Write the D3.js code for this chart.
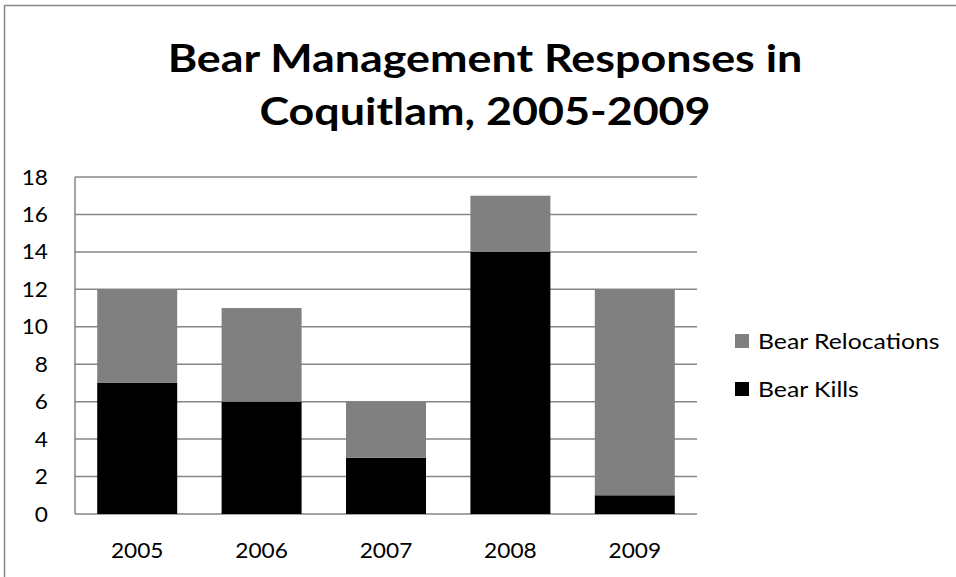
<!DOCTYPE html>
<html><head><meta charset="utf-8">
<script src="https://cdn.jsdelivr.net/npm/d3@7"></script>
<style>body{margin:0;background:#fff}svg{display:block}</style>
</head><body>
<script>
const years = ["2005","2006","2007","2008","2009"];
const bearKills = [7,6,3,14,1];
const bearRelocations = [5,5,3,3,11];
const yTicks = [0,2,4,6,8,10,12,14,16,18];
const titleLines = ["Bear Management Responses in","Coquitlam, 2005-2009"];
const seriesNames = ["Bear Relocations","Bear Kills"];
const seriesColors = {"Bear Kills":"#000000","Bear Relocations":"#808080"};

const W=956,H=577;
const svg=d3.select("body").append("svg").attr("width",W).attr("height",H);
const font="Lato, 'Open Sans', sans-serif";
const SX_TICK=1.08, SX_TEXT=1.18;

svg.append("rect").attr("x",4.5).attr("y",5.5).attr("width",W).attr("height",H)
  .attr("fill","#fff").attr("stroke","#868686").attr("stroke-width",1.5);

const L=75,R=697,T=177,B=514;
const x=d3.scaleBand().domain(years).range([L,R]).paddingInner(0.357).paddingOuter(0.1785);
const y=d3.scaleLinear().domain([0,18]).range([B,T]);

svg.append("g").selectAll("line").data(yTicks).join("line")
  .attr("x1",L).attr("x2",R).attr("y1",d=>y(d)).attr("y2",d=>y(d))
  .attr("stroke","#868686").attr("stroke-width",1.5);
svg.append("line").attr("x1",L).attr("x2",L).attr("y1",T).attr("y2",B)
  .attr("stroke","#868686").attr("stroke-width",1.5);

const rows=years.map((yr,i)=>({year:yr,"Bear Kills":bearKills[i],"Bear Relocations":bearRelocations[i]}));
const stack=d3.stack().keys(["Bear Kills","Bear Relocations"])(rows);
svg.append("g").selectAll("g").data(stack).join("g").attr("fill",d=>seriesColors[d.key])
  .selectAll("rect").data(d=>d).join("rect")
  .attr("x",d=>x(d.data.year)).attr("width",x.bandwidth())
  .attr("y",d=>y(d[1])).attr("height",d=>y(d[0])-y(d[1]));

svg.append("g").selectAll("text").data(yTicks).join("text")
  .attr("transform",d=>`translate(48,${y(d)}) scale(${SX_TICK},1)`).attr("dy","0.36em").attr("text-anchor","end")
  .attr("font-family",font).attr("font-size",21).text(d=>d);
svg.append("g").selectAll("text").data(years).join("text")
  .attr("transform",d=>`translate(${x(d)+x.bandwidth()/2},558) scale(${SX_TICK},1)`).attr("text-anchor","middle")
  .attr("font-family",font).attr("font-size",21).text(d=>d);

svg.append("g").selectAll("text").data(titleLines).join("text")
  .attr("transform",(d,i)=>`translate(485,${72+i*53}) scale(${SX_TEXT},1)`).attr("text-anchor","middle")
  .attr("font-family",font).attr("font-weight","bold").attr("font-size",38).text(d=>d);

const lg=svg.append("g").selectAll("g").data(seriesNames).join("g")
  .attr("transform",(d,i)=>`translate(735,${334+i*48})`);
lg.append("rect").attr("width",14).attr("height",14).attr("fill",d=>seriesColors[d]);
lg.append("text").attr("transform",`translate(23,14.5) scale(${SX_TEXT},1)`)
  .attr("font-family",font).attr("font-size",21).text(d=>d);
</script>
</body></html>
